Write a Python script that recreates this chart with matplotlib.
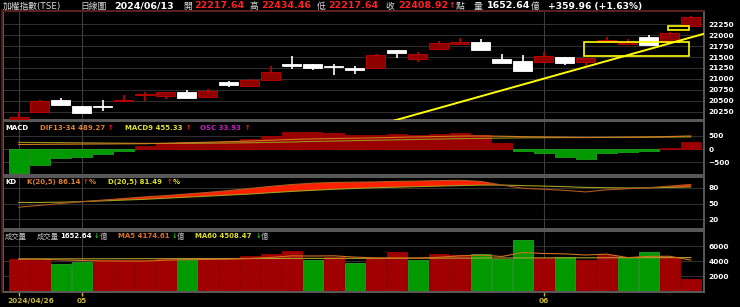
import numpy as np
import matplotlib.pyplot as plt
from matplotlib.patches import Rectangle
from matplotlib.transforms import ScaledTranslation

W, H = 740, 307

dates = ['2024/04/26', '2024/04/29', '2024/04/30', '2024/05/02', '2024/05/03', '2024/05/06',
         '2024/05/07', '2024/05/08', '2024/05/09', '2024/05/10', '2024/05/13', '2024/05/14',
         '2024/05/15', '2024/05/16', '2024/05/17', '2024/05/20', '2024/05/21', '2024/05/22',
         '2024/05/23', '2024/05/24', '2024/05/27', '2024/05/28', '2024/05/29', '2024/05/30',
         '2024/05/31', '2024/06/03', '2024/06/04', '2024/06/05', '2024/06/06', '2024/06/07',
         '2024/06/11', '2024/06/12', '2024/06/13']

opens = [20080, 20235, 20510, 20372, 20380, 20487, 20632, 20601, 20708, 20578, 20922, 20830,
         20975, 21349, 21349, 21295, 21242, 21242, 21662, 21448, 21693, 21807, 21838, 21464,
         21418, 21387, 21509, 21380, 21845, 21807, 21968, 21838, 22217.64]
closes = [20120, 20502, 20395, 20227, 20350, 20525, 20662, 20700, 20563, 20716, 20853, 20983,
          21158, 21303, 21258, 21264, 21212, 21548, 21601, 21563, 21815, 21853, 21662, 21357,
          21174, 21532, 21357, 21471, 21899, 21853, 21784, 22048.96, 22408.92]
highs = [20235, 20510, 20563, 20375, 20517, 20640, 20708, 20705, 20754, 20769, 20952, 21006,
         21303, 21525, 21352, 21341, 21303, 21570, 21665, 21616, 21876, 21937, 21906, 21563,
         21540, 21609, 21512, 21474, 21967, 21906, 21998, 22082, 22434.46]
lows = [20075, 20230, 20390, 20222, 20273, 20485, 20494, 20548, 20560, 20575, 20807, 20815,
        20970, 21235, 21204, 21097, 21120, 21240, 21471, 21380, 21690, 21805, 21660, 21355,
        21170, 21357, 21311, 21265, 21842, 21805, 21780, 21835, 22217.64]

osc_bars = [-912, -587, -350, -287, -200, -75, 112, 225, 250, 262, 312, 375, 487, 637, 625, 600,
            537, 525, 575, 512, 575, 612, 512, 237, -87, -162, -287, -362, -162, -100, -75, 37, 262]
dif = [170, 175, 180, 185, 190, 195, 200, 215, 235, 255, 275, 300, 330, 360, 380, 395, 405,
       420, 440, 455, 470, 485, 490, 480, 465, 455, 445, 435, 440, 445, 455, 470, 489.27]
macd9 = [250, 245, 240, 232, 225, 218, 212, 210, 212, 218, 225, 235, 250, 265, 285, 300, 315,
         330, 345, 360, 375, 390, 400, 410, 420, 425, 430, 432, 435, 438, 442, 448, 455.33]

k_line = [43, 46.5, 50, 53.5, 56.5, 59.5, 62.5, 65, 68, 71, 74.5, 78.5, 82.5, 86, 88.5, 90, 90.5,
          91, 92, 92.5, 93.5, 94, 92, 85, 79, 77, 75, 72, 76, 78, 80, 83, 86.14]
d_line = [52, 52, 52.5, 53.5, 55, 56.5, 58, 60, 62, 64, 66, 68, 70.5, 73, 75, 77, 78.5, 80,
          81, 82, 83, 84, 85, 85, 84, 83, 82, 80.5, 80, 79.5, 79.8, 80.5, 81.49]

volume = [4306, 4218, 3684, 3951, 4129, 4218, 4218, 4262, 4306, 4306, 4395, 4662, 4973, 5329,
          4218, 4529, 3818, 4440, 5240, 4218, 5018, 4796, 4929, 4306, 6839, 4395, 4529, 4173,
          4884, 4529, 5240, 4573, 1652.64]
vol_ma5 = [4300, 4280, 4200, 4120, 4058, 4040, 4040, 4156, 4227, 4262, 4297, 4386, 4528, 4733,
           4715, 4742, 4573, 4467, 4449, 4449, 4547, 4742, 4840, 4653, 5178, 5053, 5000, 4848,
           4964, 4502, 4671, 4680, 4174.61]
vol_ma60 = [4330, 4336, 4340, 4345, 4350, 4352, 4358, 4362, 4368, 4372, 4378, 4385, 4390, 4398,
            4402, 4405, 4410, 4415, 4420, 4428, 4432, 4436, 4442, 4450, 4462, 4466, 4470, 4476,
            4482, 4488, 4495, 4500, 4508.47]

# yellow trend line and boxes drawn by the user on the chart
trend_x = [17.68, 32.6]
trend_y = [20021, 22029]
boxes = [(26.93, 21517, 5.0, 321), (30.93, 22120, 1.0, 92)]

RED_BODY = '#8e0000'
RED_EDGE = '#c80000'
GREEN = '#009a00'
GRID = '#2e2e2e'
SPINE = '#5a5a5a'
CJK = ['DejaVu Sans', 'Noto Sans CJK TC']

plt.rcParams['font.family'] = CJK


def px(fig, x, y, s, color, size=5.0, weight='bold'):
    fig.text(x / W, 1 - y / H, s, color=color, fontsize=size, fontweight=weight,
             va='center', ha='left')


def style_axes(ax, yticks, ylim):
    ax.set_facecolor('black')
    ax.set_xlim(-0.75, 32.63)
    ax.set_ylim(*ylim)
    ax.set_yticks(yticks)
    ax.yaxis.tick_right()
    ax.tick_params(axis='y', colors='white', labelsize=5.3, length=0, pad=3)
    for lab in ax.get_yticklabels():
        lab.set_fontweight('bold')
    ax.set_xticks([])
    for s in ax.spines.values():
        s.set_color(SPINE)
        s.set_linewidth(1.4)
    for t in yticks:
        ax.axhline(t, color=GRID, lw=0.8, zorder=0)
    for t in month_ticks:
        ax.axvline(t, color='#3c3c3c', lw=0.8, zorder=0)


x = np.arange(len(dates))
opens, closes, highs, lows = map(np.array, (opens, closes, highs, lows))
up = closes >= opens

month_ticks = [0]
month_labels = [dates[0]]
for i in range(1, len(dates)):
    if dates[i][5:7] != dates[i - 1][5:7]:
        month_ticks.append(i)
        month_labels.append(dates[i][5:7])

fig = plt.figure(figsize=(W / 100, H / 100), dpi=100, facecolor='black')
left, width = 3 / W, 701 / W
ax_p = fig.add_axes([left, 1 - 120 / H, width, 109 / H])
ax_m = fig.add_axes([left, 1 - 175 / H, width, 54 / H])
ax_k = fig.add_axes([left, 1 - 229 / H, width, 52 / H])
ax_v = fig.add_axes([left, 1 - 291.5 / H, width, 60.5 / H])

# price candles
style_axes(ax_p, np.arange(20250, 22251, 250), (20060, 22554))
wick_col = np.where(up, RED_EDGE, 'white')
ax_p.vlines(x, lows, highs, colors=wick_col, lw=1.2, zorder=2)
body_lo = np.minimum(opens, closes)
body_h = np.maximum(np.abs(closes - opens), 18)
ax_p.bar(x, body_h, bottom=body_lo, width=0.92, color=np.where(up, RED_BODY, 'white'),
         edgecolor=np.where(up, RED_EDGE, 'white'), lw=0.6, zorder=3)
ax_p.plot(trend_x, trend_y, color='#ffff00', lw=1.4, zorder=4)
for bx, by, bw, bh in boxes:
    ax_p.add_patch(Rectangle((bx, by), bw, bh, fill=False, edgecolor='#ffff00', lw=1.2, zorder=4))

# MACD
style_axes(ax_m, [-500, 0, 500], (-977, 1053))
osc = np.array(osc_bars)
ax_m.bar(x, osc, width=0.93, color=np.where(osc >= 0, '#9a0000', GREEN),
         edgecolor=np.where(osc >= 0, '#b00000', '#20b020'), lw=0.5, zorder=2)
ax_m.plot(x, macd9, color='#a09020', lw=0.8, zorder=3)
ax_m.plot(x, dif, color='#d07a20', lw=0.8, zorder=3)

# KD
style_axes(ax_k, [20, 50, 80], (1.6, 100.3))
k_arr, d_arr = np.array(k_line), np.array(d_line)
ax_k.fill_between(x, k_arr, d_arr, where=k_arr >= d_arr, interpolate=True, color='#ff2000', lw=0, zorder=2)
ax_k.plot(x, d_arr, color='#a0a020', lw=0.8, zorder=3)
ax_k.plot(x, k_arr, color='#b05a20', lw=0.8, zorder=3)

# volume
style_axes(ax_v, [2000, 4000, 6000], (0, 8040))
vol_up = np.concatenate([[True], closes[1:] >= closes[:-1]])
ax_v.bar(x, volume, width=0.93, color=np.where(vol_up, '#a00000', GREEN),
         edgecolor=np.where(vol_up, '#b00000', '#30b030'), lw=0.5, zorder=2)
ax_v.plot(x, vol_ma60, color='#b0a030', lw=0.8, zorder=3)
ax_v.plot(x, vol_ma5, color='#d07020', lw=0.8, zorder=3)
ax_v.set_xticks(month_ticks)
ax_v.set_xticklabels(month_labels)
ax_v.tick_params(axis='x', colors='#c8b830', labelsize=5.3, length=3, width=1, pad=1.5)
for lab in ax_v.get_xticklabels():
    lab.set_fontweight('bold')
first = ax_v.get_xticklabels()[0]
first.set_ha('left')
first.set_transform(first.get_transform() + ScaledTranslation(-0.11, 0, fig.dpi_scale_trans))

# header
RED_T = '#ff2020'
LIGHT = '#dcdcdc'
px(fig, 3, 6, '加權指數(TSE)', LIGHT, 6.3, 'normal')
px(fig, 80, 6, '日線圖', LIGHT, 6.3, 'normal')
px(fig, 114, 6, '2024/06/13', 'white', 6.8)
px(fig, 183, 6, '開', LIGHT, 6.3, 'normal')
px(fig, 194, 6, '22217.64', RED_T, 6.8)
px(fig, 250, 6, '高', LIGHT, 6.3, 'normal')
px(fig, 261, 6, '22434.46', RED_T, 6.8)
px(fig, 317, 6, '低', LIGHT, 6.3, 'normal')
px(fig, 328, 6, '22217.64', RED_T, 6.8)
px(fig, 385, 6, '收', LIGHT, 6.3, 'normal')
px(fig, 398, 6, '22408.92', RED_T, 6.8)
px(fig, 449, 6, '↑', RED_T, 5.5)
px(fig, 456, 6, '點', LIGHT, 6.3, 'normal')
px(fig, 474, 6, '量', LIGHT, 6.3, 'normal')
px(fig, 487, 6, '1652.64', 'white', 6.8)
px(fig, 531, 6, '億', LIGHT, 6.3, 'normal')
px(fig, 548, 6, '+359.96 (+1.63%)', 'white', 6.6)

# panel captions
px(fig, 5, 128, 'MACD', 'white')
px(fig, 40, 128, 'DIF13-34 489.27', '#e08030')
px(fig, 108, 128, '↑', RED_T, 4.8)
px(fig, 125, 128, 'MACD9 455.33', '#e0e020')
px(fig, 186, 128, '↑', RED_T, 4.8)
px(fig, 200, 128, 'OSC 33.93', '#c020c0')
px(fig, 245, 128, '↑', RED_T, 4.8)

px(fig, 5, 182, 'KD', 'white')
px(fig, 27, 182, 'K(20,5) 86.14', '#e08030')
px(fig, 83, 182, '↑', RED_T, 4.8)
px(fig, 89, 182, '%', '#e08030')
px(fig, 108, 182, 'D(20,5) 81.49', '#e0e020')
px(fig, 167, 182, '↑', RED_T, 4.8)
px(fig, 173, 182, '%', '#e0e020')

px(fig, 5, 236, '成交量', '#c0c0c0', 5.3, 'normal')
px(fig, 37, 236, '成交量', '#c0c0c0', 5.3, 'normal')
px(fig, 60, 236, '1652.64', 'white')
px(fig, 94, 236, '↓', '#20c020', 4.8)
px(fig, 100, 236, '億', '#c0c0c0', 5.3, 'normal')
px(fig, 118, 236, 'MA5 4174.61', '#e07020')
px(fig, 172, 236, '↓', '#20c020', 4.8)
px(fig, 177, 236, '億', '#c0c0c0', 5.3, 'normal')
px(fig, 195, 236, 'MA60 4508.47', '#e0e020')
px(fig, 256, 236, '↓', '#20c020', 4.8)
px(fig, 261, 236, '億', '#c0c0c0', 5.3, 'normal')

# outer maroon frame line on the left and under the header
fig.add_artist(plt.Line2D([1.5 / W, 1.5 / W], [1 - 292 / H, 1 - 10 / H], color='#5a1515', lw=1.2))
fig.add_artist(plt.Line2D([1.5 / W, 704 / W], [1 - 10.5 / H, 1 - 10.5 / H], color='#5a1515', lw=1.2))

fig.savefig('out.png', dpi=100, facecolor='black')
